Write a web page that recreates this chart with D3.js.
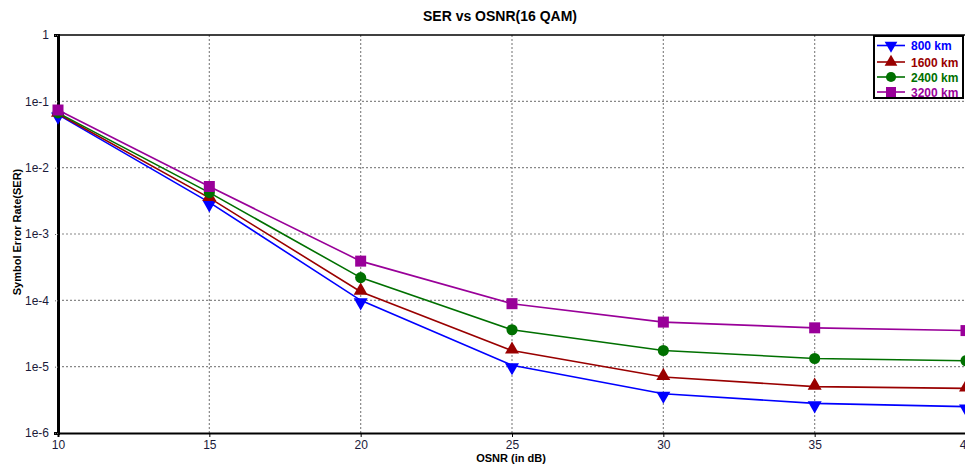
<!DOCTYPE html>
<html><head><meta charset="utf-8">
<script src="https://cdn.jsdelivr.net/npm/d3@7"></script>
<style>body{margin:0;background:#fff;}svg{display:block;font-family:Arial,"Liberation Sans",sans-serif;}</style>
</head><body><svg id="c" width="965" height="465"></svg>
<script>
const osnr = [10, 15, 20, 25, 30, 35, 40];
const ser800  = [0.063, 3.0e-3, 1.0e-4, 1.05e-5, 3.9e-6, 2.8e-6, 2.5e-6];
const ser1600 = [0.065, 3.5e-3, 1.35e-4, 1.75e-5, 7.0e-6, 5.0e-6, 4.7e-6];
const ser2400 = [0.067, 4.2e-3, 2.2e-4, 3.6e-5, 1.75e-5, 1.33e-5, 1.23e-5];
const ser3200 = [0.074, 5.2e-3, 3.9e-4, 8.9e-5, 4.7e-5, 3.85e-5, 3.5e-5];
const seriesNames = ["800 km", "1600 km", "2400 km", "3200 km"];
const seriesColors = ["#0000ff", "#990000", "#007000", "#990099"];
const seriesShapes = ["down", "up", "circle", "square"];
const xTicks = [10, 15, 20, 25, 30, 35, 40];
const yTicks = [1, 1e-1, 1e-2, 1e-3, 1e-4, 1e-5, 1e-6];
const yTickLabels = ["1", "1e-1", "1e-2", "1e-3", "1e-4", "1e-5", "1e-6"];
const allSeries = [ser800, ser1600, ser2400, ser3200];

const svg = d3.select("#c");
const L = 58, R = 966, T = 35, B = 433;
const x = d3.scaleLinear().domain([10, 40]).range([L, R]);
const y = d3.scaleLog().domain([1e-6, 1]).range([B, T]);

// grid
const g = svg.append("g");
g.selectAll(".gx").data(xTicks.slice(1)).enter().append("line")
  .attr("x1", d => x(d)).attr("x2", d => x(d)).attr("y1", T).attr("y2", B)
  .attr("stroke", "#888").attr("stroke-width", 1.2).attr("stroke-dasharray", "2,2");
g.selectAll(".gy").data(yTicks.slice(1, -1)).enter().append("line")
  .attr("x1", L).attr("x2", R).attr("y1", d => y(d)).attr("y2", d => y(d))
  .attr("stroke", "#888").attr("stroke-width", 1.2).attr("stroke-dasharray", "2,2");

// axes
const xAxis = d3.axisBottom(x).tickValues(xTicks).tickSize(4).tickPadding(3);
const gx = svg.append("g").attr("transform", `translate(0,${B})`).call(xAxis);
gx.select(".domain").attr("stroke", "#000").attr("stroke-width", 2);
gx.selectAll("text").attr("font-size", 12).attr("fill", "#1a1a3a").attr("font-family", "Arial, Liberation Sans, sans-serif");

const yAxis = d3.axisLeft(y).tickValues(yTicks).tickFormat((d, i) => yTickLabels[i]).tickSize(4).tickPadding(5);
const gy = svg.append("g").attr("transform", `translate(${L},0)`).call(yAxis);
gy.select(".domain").attr("stroke", "#000").attr("stroke-width", 3);
gy.selectAll("text").attr("font-size", 12).attr("fill", "#1a1a3a").attr("font-family", "Arial, Liberation Sans, sans-serif");
gy.selectAll(".tick line").attr("stroke", "#666").attr("stroke-dasharray", "1,1");

// top border
svg.append("line").attr("x1", L).attr("x2", R).attr("y1", T).attr("y2", T).attr("stroke", "#000").attr("stroke-width", 1.5);

// lines + markers
function marker(sel, shape, color, s) {
  const sym = {down: d3.symbolTriangle, up: d3.symbolTriangle, circle: d3.symbolCircle, square: d3.symbolSquare}[shape];
  const size = shape === "square" ? s * s * 1.0 : shape === "circle" ? s * s * 0.8 : s * s * 0.7;
  sel.append("path").attr("d", d3.symbol().type(sym).size(size)())
    .attr("transform", shape === "down" ? "rotate(180)" : null)
    .attr("fill", color);
}
const lineGen = d3.line().x((d, i) => x(osnr[i])).y(d => y(d));
allSeries.forEach((vals, si) => {
  svg.append("path").datum(vals).attr("d", lineGen)
    .attr("fill", "none").attr("stroke", seriesColors[si]).attr("stroke-width", 1.6);
  vals.forEach((v, i) => {
    const m = svg.append("g").attr("transform", `translate(${x(osnr[i])},${y(v) + (seriesShapes[si]==="down"?2:seriesShapes[si]==="up"?-1:0)})`);
    marker(m, seriesShapes[si], seriesColors[si], 11);
  });
});

// title & labels
svg.append("text").attr("x", 500).attr("y", 21).attr("text-anchor", "middle")
  .attr("font-size", 14).attr("font-weight", "bold").text("SER vs OSNR(16 QAM)");
svg.append("text").attr("x", 511).attr("y", 462).attr("text-anchor", "middle")
  .attr("font-size", 11).attr("font-weight", "bold").text("OSNR (in dB)");
svg.append("text").attr("transform", "translate(21,232) rotate(-90)").attr("text-anchor", "middle")
  .attr("font-size", 11).attr("font-weight", "bold").text("Symbol Error Rate(SER)");

// legend
const lg = svg.append("g");
lg.append("rect").attr("x", 874).attr("y", 36).attr("width", 89).attr("height", 62)
  .attr("fill", "#fff").attr("stroke", "#000").attr("stroke-width", 2);
const rowY = [45.5, 62, 77, 92];
seriesNames.forEach((n, i) => {
  lg.append("line").attr("x1", 877).attr("x2", 905).attr("y1", rowY[i]).attr("y2", rowY[i])
    .attr("stroke", seriesColors[i]).attr("stroke-width", 1.6);
  const m = lg.append("g").attr("transform", `translate(891,${rowY[i]})`);
  marker(m, seriesShapes[i], seriesColors[i], 10);
  lg.append("text").attr("x", 911).attr("y", rowY[i] + 4.5).attr("font-size", 12).attr("font-weight", "bold")
    .attr("fill", seriesColors[i]).text(n);
});
</script></body></html>
